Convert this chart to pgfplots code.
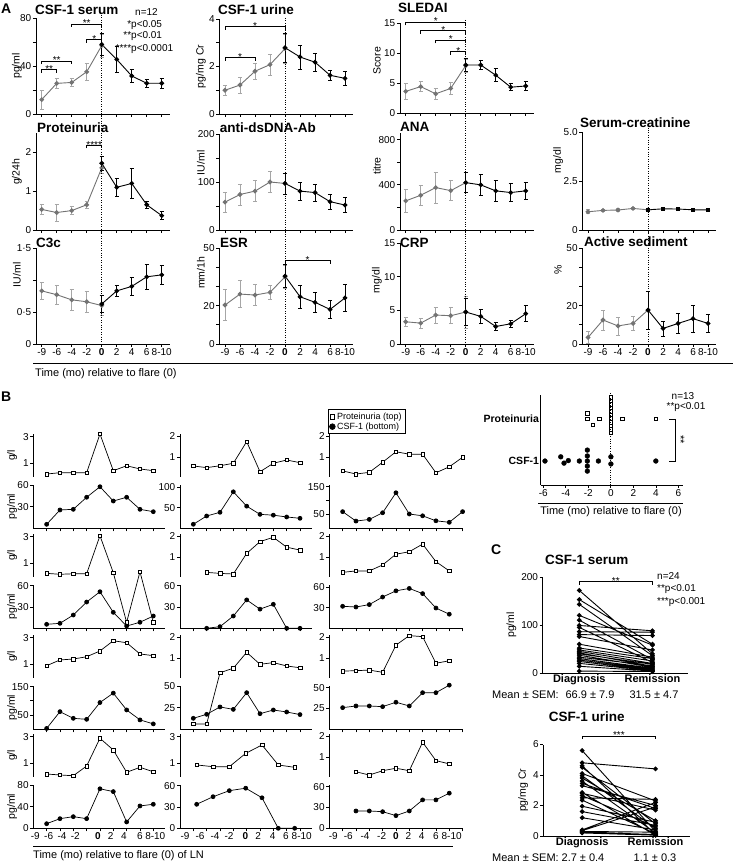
\documentclass[border=0pt]{standalone}
\usepackage{fontspec}
\setmainfont{Liberation Sans}
\usepackage{pgfplots}
\pgfplotsset{compat=1.18}
\newcommand\fs[1]{\fontsize{#1}{#1}\selectfont}
\definecolor{gA}{gray}{0.45}
\definecolor{gE}{gray}{0.65}
\newcommand\brk[4]{\draw[line width=0.7pt] ([yshift=-3pt]axis cs:#1,#3) -- (axis cs:#1,#3) -- node[midway, anchor=base, yshift=-2.6pt, inner sep=0, font=\fs{10}] {#4} (axis cs:#2,#3) -- ([yshift=-3pt]axis cs:#2,#3);}
\pgfplotsset{
 /pgf/number format/assume math mode=true,
 every axis/.append style={scale only axis, clip=false, anchor=south west,
   axis line style={-, line width=0.8pt}, tick style={line width=0.8pt, black},
   tick align=outside, major tick length=3pt,
   ticklabel style={font=\fs{10}, inner sep=1.5pt}, ylabel style={font=\fs{10.5}}},
 A/.style={width=134pt, xmin=-0.38, xmax=8.55, axis lines*=left, xtick={0,...,8}, xticklabels={}, ymin=0},
 Ab/.style={xticklabels={-9,-6,-4,-2,\textbf{0},2,4,6,8-10}},
 YL/.style 2 args={ylabel style={at={(axis description cs:#1,#2)}, anchor=center}},
 gser/.style={draw=gA, line width=0.9pt, mark=*, mark size=1.9pt, mark options={fill=gA,draw=gA},
   error bars/y dir=both, error bars/y explicit,
   error bars/error bar style={draw=gE, line width=0.7pt},
   error bars/error mark options={rotate=90, draw=gE, mark size=2.2pt, line width=0.7pt}},
 bser/.style={draw=black, line width=0.9pt, mark=*, mark size=1.9pt, mark options={fill=black,draw=black},
   error bars/y dir=both, error bars/y explicit,
   error bars/error bar style={draw=black, line width=0.7pt},
   error bars/error mark options={rotate=90, draw=black, mark size=2.2pt, line width=0.7pt}},
 Bp/.style={width=132pt, height=42.7pt, xmin=0, xmax=9.9, axis x line=none, axis y line*=left, xtick=\empty},
 Bc/.style={width=132pt, height=43.3pt, xmin=0, xmax=9.9, ymin=0, axis lines*=left, xtick={1,...,9}, xticklabels={}},
 Bw/.style={width=133.3pt, xmax=10},
 P3/.style={ymin=0, ymax=3.2, ytick={1,3}},
 P2/.style={ymin=0.05, ymax=2.12, ytick={1,2}},
 psq/.style={draw=black, line width=0.7pt, mark=square*, mark size=1.8pt, mark options={fill=white, draw=black, line width=0.6pt}},
 pcf/.style={draw=black, line width=0.7pt, mark=*, mark size=2pt, mark options={fill=black}},
 Blab/.style={extra x ticks={#1}, extra x tick labels={-9,-6,-4,-2,\textbf{0},2,4,6,8-10}, extra x tick style={tick style={draw=none}}},
}
\begin{document}
\begin{tikzpicture}[x=1pt,y=1pt]
\useasboundingbox (0,0) rectangle (733,863);
% ================= PANEL A =================
\node[anchor=west, inner sep=0, font=\bfseries\fs{14}] at (1,854) {A};
% Row 1
\begin{axis}[A, YL={-0.142}{0.5}, at={(36pt,749pt)}, height=96pt, ymax=80, ytick={0,20,...,80}, yticklabels={0,,40,,80}, ylabel={pg/ml}]
\addplot[gser] coordinates {(0,12)+-(0,8) (1,25.5)+-(0,3.8) (2,26.3)+-(0,3) (3,35.2)+-(0,7) (4,57)+-(0,9.5)};
\addplot[bser] coordinates {(4,58)+-(0,9.5) (5,45.5)+-(0,10.5) (6,31.7)+-(0,5.5) (7,25.6)+-(0,3.5) (8,25.6)+-(0,4)};
\brk{0}{1}{37}{**}\brk{0}{2}{44}{**}\brk{2}{4}{75}{**}\brk{3}{4}{62}{*}
\end{axis}
\begin{axis}[A, YL={-0.137}{0.5}, at={(219.3pt,749pt)}, height=95pt, ymax=4, ytick={0,...,4}, yticklabels={0,,2,,4}, ylabel={pg/mg Cr}]
\addplot[gser] coordinates {(0,1.0)+-(0,0.2) (1,1.22)+-(0,0.33) (2,1.8)+-(0,0.35) (3,2.08)+-(0,0.44) (4,2.75)+-(0,0.62)};
\addplot[bser] coordinates {(4,2.79)+-(0,0.62) (5,2.4)+-(0,0.51) (6,2.18)+-(0,0.39) (7,1.63)+-(0,0.22) (8,1.5)+-(0,0.3)};
\brk{0}{4}{3.68}{*}\brk{0}{2}{2.37}{*}
\end{axis}
\begin{axis}[A, YL={-0.172}{0.58}, at={(400pt,750pt)}, height=90pt, ymax=15, ytick={0,5,10,15}, ylabel={Score}]
\addplot[gser] coordinates {(0,3.6)+-(0,1.4) (1,4.4)+-(0,0.8) (2,3.2)+-(0,0.95) (3,4.1)+-(0,1.0) (4,7.9)+-(0,1.1)};
\addplot[bser] coordinates {(4,8)+-(0,1.1) (5,8)+-(0,0.8) (6,6.3)+-(0,1.1) (7,4.3)+-(0,0.6) (8,4.5)+-(0,0.8)};
\brk{0}{4}{15.1}{*}\brk{1}{4}{13.7}{*}\brk{2}{4}{12.1}{*}\brk{3}{4}{10.2}{*}
\end{axis}
% Row 2
\begin{axis}[A, YL={-0.142}{0.6}, at={(36pt,633pt)}, height=97pt, ymax=2.5, ytick={0,1,2}, ylabel={g/24h}]
\addplot[gser] coordinates {(0,0.53)+-(0,0.12) (1,0.45)+-(0,0.22) (2,0.5)+-(0,0.1) (3,0.65)+-(0,0.08) (4,1.6)+-(0,0.15)};
\addplot[bser] coordinates {(4,1.72)+-(0,0.18) (5,1.1)+-(0,0.23) (6,1.2)+-(0,0.38) (7,0.65)+-(0,0.1) (8,0.37)+-(0,0.1)};
\brk{3}{4}{2.18}{****}
\end{axis}
\begin{axis}[A, YL={-0.137}{0.7}, at={(219.3pt,633pt)}, height=96pt, ymax=200, ytick={0,50,...,200}, yticklabels={0,,100,,200}, ylabel={IU/ml}]
\addplot[gser] coordinates {(0,58)+-(0,21) (1,74)+-(0,22) (2,81)+-(0,22) (3,100)+-(0,22) (4,97)+-(0,22)};
\addplot[bser] coordinates {(4,97)+-(0,22) (5,81)+-(0,19) (6,78)+-(0,18) (7,59)+-(0,16) (8,52)+-(0,16)};
\end{axis}
\begin{axis}[A, YL={-0.172}{0.66}, at={(400pt,633pt)}, height=97pt, ymax=860, ytick={0,200,...,800}, yticklabels={0,,400,,800}, ylabel={titre}]
\addplot[gser] coordinates {(0,258)+-(0,100) (1,308)+-(0,86) (2,376)+-(0,136) (3,349)+-(0,89) (4,420)+-(0,89)};
\addplot[bser] coordinates {(4,420)+-(0,89) (5,400)+-(0,93) (6,347)+-(0,92) (7,332)+-(0,81) (8,347)+-(0,74)};
\end{axis}
\begin{axis}[A, YL={-0.181}{0.71}, at={(582.3pt,633pt)}, height=98pt, ymax=5, ytick={0,2.5,5}, yticklabels={0,2.5,5.0}, ylabel={mg/dl}]
\addplot[gser] coordinates {(0,0.93)+-(0,0.1) (1,1.0)+-(0,0.06) (2,1.02)+-(0,0.06) (3,1.1)+-(0,0.07) (4,1.03)+-(0,0.05)};
\addplot[bser, mark=square*, mark size=1.7pt] coordinates {(4,1.03)+-(0,0.05) (5,1.08)+-(0,0.05) (6,1.07)+-(0,0.05) (7,1.03)+-(0,0.04) (8,1.03)+-(0,0.05)};
\end{axis}
% Row 3
\begin{axis}[A, Ab, YL={-0.142}{0.72}, at={(36pt,519pt)}, height=96pt, ymax=1.5, ytick={0,0.5,1,1.5}, yticklabels={0,0·5,,1·5}, ylabel={IU/ml}]
\addplot[gser] coordinates {(0,0.83)+-(0,0.13) (1,0.77)+-(0,0.15) (2,0.69)+-(0,0.17) (3,0.66)+-(0,0.16) (4,0.6)+-(0,0.16)};
\addplot[bser] coordinates {(4,0.625)+-(0,0.13) (5,0.83)+-(0,0.09) (6,0.9)+-(0,0.14) (7,1.05)+-(0,0.2) (8,1.08)+-(0,0.15)};
\end{axis}
\begin{axis}[A, Ab, YL={-0.137}{0.74}, at={(219.3pt,519pt)}, height=96pt, ymax=50, ytick={0,10,...,50}, yticklabels={0,,20,,,50}, ylabel={mm/1h}]
\addplot[gser] coordinates {(0,20.3)+-(0,8) (1,26)+-(0,7) (2,25.5)+-(0,5.5) (3,26.9)+-(0,3.9) (4,35)+-(0,6)};
\addplot[bser] coordinates {(4,35.4)+-(0,6) (5,24.6)+-(0,6) (6,21.7)+-(0,5) (7,18)+-(0,4.5) (8,24)+-(0,7)};
\brk{4}{7}{43.4}{*}
\end{axis}
\begin{axis}[A, Ab, YL={-0.172}{0.63}, at={(400pt,519pt)}, height=101pt, ymax=15, ytick={0,5,10,15}, ylabel={mg/dl}]
\addplot[gser] coordinates {(0,3.3)+-(0,0.7) (1,3.1)+-(0,0.75) (2,4.3)+-(0,1.2) (3,4.2)+-(0,1.2) (4,4.75)+-(0,2.4)};
\addplot[bser] coordinates {(4,4.75)+-(0,2.0) (5,4.1)+-(0,1.1) (6,2.6)+-(0,0.55) (7,3.0)+-(0,0.55) (8,4.5)+-(0,1.2)};
\end{axis}
\begin{axis}[A, Ab, YL={-0.181}{0.77}, at={(582.3pt,519pt)}, height=96pt, ymax=50, ytick={0,10,...,50}, yticklabels={0,,20,,,50}, ylabel={\%}]
\addplot[gser] coordinates {(0,3.4)+-(0,3.3) (1,12.5)+-(0,5.2) (2,9.4)+-(0,4.7) (3,10.7)+-(0,3.7) (4,17.7)+-(0,9.9)};
\addplot[bser] coordinates {(4,17.7)+-(0,9.9) (5,8.1)+-(0,3.9) (6,10.7)+-(0,5.4) (7,13.2)+-(0,7) (8,10.7)+-(0,4.5)};
\end{axis}
% titles A
\begin{scope}[every node/.style={anchor=west, inner sep=0, font=\bfseries\fs{13.5}}]
\node at (35,853) {CSF-1 serum};
\node at (218,853) {CSF-1 urine};
\node at (398,854.7) {SLEDAI};
\node at (37,735) {Proteinuria};
\node at (219.7,735) {anti-dsDNA-Ab};
\node at (400,736.3) {ANA};
\node at (580,740.3) {Serum-creatinine};
\node at (36,619.7) {C3c};
\node at (220,619.7) {ESR};
\node at (400,619.7) {CRP};
\node at (584,621.3) {Active sediment};
\end{scope}
\begin{scope}[every node/.style={anchor=west, inner sep=0, font=\fs{10}}]
\node at (135,851.3) {n=12};
\node at (131,838) {\llap{*}p<0.05};
\node at (131,826.7) {\llap{**}p<0.01};
\node at (131,814) {\llap{****}p<0.0001};
\end{scope}
\begin{scope}[line width=0.8pt, dash pattern=on 0.8pt off 1.6pt]
\draw (101.7,848) -- (101.7,519);
\draw (285,845) -- (285,519);
\draw (465.7,843) -- (465.7,519);
\draw (648,735.3) -- (648,519);
\end{scope}
\draw[line width=1pt] (33,499.7) -- (733,499.7);
\node[anchor=west, inner sep=0, font=\fs{11}] at (35,489.5) {Time (mo) relative to flare (0)};
% ================= PANEL B =================
\node[anchor=west, inner sep=0, font=\bfseries\fs{14}] at (1,466) {B};
% pair 1
\begin{axis}[Bp, P3, YL={-0.16}{0.5}, at={(33.3pt,386.3pt)}, ylabel={g/l}]
\addplot[psq] coordinates {(1,0.2) (2,0.3) (3,0.3) (4,0.3) (5,3.2) (6,0.45) (7,0.82) (8,0.58) (9,0.45)};
\end{axis}
\begin{axis}[Bc, YL={-0.16}{0.5}, at={(33.3pt,334.7pt)}, ymax=60, ytick={30,60}, ylabel={pg/ml}]
\addplot[pcf] coordinates {(1,5.5) (2,25.4) (3,26.3) (4,43) (5,57.6) (6,37.8) (7,43) (8,26.3) (9,23)};
\end{axis}
\begin{axis}[Bp, P2, at={(180pt,386.3pt)}]
\addplot[psq] coordinates {(1,0.57) (2,0.49) (3,0.58) (4,0.7) (5,1.75) (6,0.29) (7,0.7) (8,0.86) (9,0.73)};
\end{axis}
\begin{axis}[Bc, at={(180pt,334.7pt)}, ymax=105.6, ytick={50,100}]
\addplot[pcf] coordinates {(1,9.8) (2,30) (3,39) (4,89) (5,54) (6,34) (7,32) (8,27.6) (9,24.4)};
\end{axis}
\begin{axis}[Bp, Bw, P2, at={(329.3pt,386.3pt)}, legend cell align=left,
  legend style={at={(-0.01,1.585)}, anchor=north west, draw=black, line width=0.8pt, font=\fs{9}, inner sep=1.2pt, row sep=-2pt}]
\addlegendimage{only marks, mark=square*, mark options={fill=white, draw=black, line width=0.6pt}, mark size=2.4pt}
\addlegendentry{Proteinuria (top)}
\addlegendimage{only marks, mark=*, mark options={fill=black}, mark size=2.8pt}
\addlegendentry{CSF-1 (bottom)}
\addplot[psq] coordinates {(1,0.33) (2,0.18) (3,0.26) (4,0.75) (5,1.26) (6,1.14) (7,1.14) (8,0.24) (9,0.53) (10,0.99)};
\end{axis}
\begin{axis}[Bc, Bw, xtick={1,...,10}, at={(329.3pt,334.7pt)}, ymax=156, ytick={50,100,150}, yticklabels={50,,150}]
\addplot[pcf] coordinates {(1,60) (2,26) (3,32) (4,56) (5,128) (6,51.5) (7,45) (8,27) (9,21.6) (10,60)};
\end{axis}
% pair 2
\begin{axis}[Bp, P3, YL={-0.16}{0.5}, at={(33.3pt,286.3pt)}, ylabel={g/l}]
\addplot[psq] coordinates {(1,0.25) (2,0.18) (3,0.22) (4,0.22) (5,3.07) (6,0.3) (7,-3.42) (8,0.37) (9,-3.42)};
\end{axis}
\begin{axis}[Bc, YL={-0.16}{0.5}, at={(33.3pt,234.7pt)}, ymax=61, ytick={30,60}, ylabel={pg/ml}]
\addplot[pcf] coordinates {(1,5.6) (2,7) (3,18.7) (4,37) (5,51.5) (6,22.5) (7,3.2) (8,8.5) (9,17.3)};
\end{axis}
\begin{axis}[Bp, P2, at={(180pt,286.3pt)}]
\addplot[psq] coordinates {(2,0.26) (3,0.21) (4,0.18) (5,1.18) (6,1.75) (7,1.96) (8,1.48) (9,1.34)};
\end{axis}
\begin{axis}[Bc, at={(180pt,234.7pt)}, ymax=61, ytick={30,60}]
\addplot[pcf] coordinates {(2,0) (3,2.3) (4,17.3) (5,40) (6,27) (7,33.8) (8,0) (9,0)};
\end{axis}
\begin{axis}[Bp, Bw, P2, at={(329.3pt,286.3pt)}]
\addplot[psq] coordinates {(1,0.26) (2,0.33) (3,0.33) (4,0.62) (5,1.14) (6,1.26) (7,1.63) (8,0.78) (9,0.33)};
\end{axis}
\begin{axis}[Bc, Bw, xtick={1,...,10}, at={(329.3pt,234.7pt)}, ymax=63, ytick={30,60}]
\addplot[pcf] coordinates {(1,32) (2,31) (3,34.5) (4,45.5) (5,54.5) (6,58) (7,50.5) (8,29.5) (9,20.5)};
\end{axis}
% pair 3
\begin{axis}[Bp, P3, YL={-0.16}{0.5}, at={(33.3pt,185.3pt)}, ylabel={g/l}]
\addplot[psq] coordinates {(1,0.9) (2,1.33) (3,1.4) (4,1.57) (5,2.0) (6,2.77) (7,2.62) (8,1.78) (9,1.65)};
\end{axis}
\begin{axis}[Bc, YL={-0.16}{0.5}, at={(33.3pt,133.7pt)}, ymax=152, ytick={50,100,150}, yticklabels={50,,150}, ylabel={pg/ml}]
\addplot[pcf] coordinates {(1,3) (2,62) (3,38.5) (4,35) (5,94) (6,127) (7,68) (8,33) (9,19)};
\end{axis}
\begin{axis}[Bp, P2, at={(180pt,185.3pt)}]
\addplot[psq] coordinates {(1,-2.19) (2,-2.19) (3,0.29) (4,0.51) (5,1.28) (6,0.7) (7,0.78) (8,0.62) (9,0.53)};
\end{axis}
\begin{axis}[Bc, at={(180pt,133.7pt)}, ymax=50, ytick={25,50}]
\addplot[pcf] coordinates {(1,12.7) (2,17.3) (3,25.8) (4,23) (5,42.3) (6,18) (7,22.3) (8,20) (9,17)};
\end{axis}
\begin{axis}[Bp, Bw, P2, at={(329.3pt,185.3pt)}]
\addplot[psq] coordinates {(1,0.37) (2,0.39) (3,0.42) (4,0.31) (5,1.63) (6,2.09) (7,2.04) (8,0.75) (9,0.87)};
\end{axis}
\begin{axis}[Bc, Bw, xtick={1,...,10}, at={(329.3pt,133.7pt)}, ymax=52, ytick={25,50}]
\addplot[pcf] coordinates {(1,26) (2,28) (3,28) (4,27.2) (5,32.5) (6,28) (7,44) (8,44) (9,53)};
\end{axis}
% pair 4
\begin{axis}[Bp, P3, YL={-0.16}{0.5}, at={(33.3pt,86.3pt)}, ylabel={g/l}]
\addplot[psq] coordinates {(1,0.2) (2,0.13) (3,0.07) (4,0.8) (5,2.88) (6,2.0) (7,0.33) (8,0.7) (9,0.37)};
\end{axis}
\begin{axis}[Bc, YL={-0.16}{0.5}, Blab={0.15,1.15,2.15,3.15,4.85,5.8,6.8,8,9.15}, at={(33.3pt,34.7pt)}, ymax=80, ytick={0,40,80}, ylabel={pg/ml}]
\addplot[pcf] coordinates {(1,8.5) (2,17.8) (3,21.5) (4,17.8) (5,73) (6,67.8) (7,11.7) (8,41.3) (9,44.4)};
\end{axis}
\begin{axis}[Bp, P3, at={(180pt,86.3pt)}]
\addplot[psq] coordinates {(1.25,0.88) (2.48,0.75) (3.7,0.75) (4.93,1.75) (6.15,2.38) (7.37,0.88) (8.6,0.7)};
\end{axis}
\begin{axis}[Bc, Blab={0.38,1.5,2.63,3.68,4.91,5.87,6.95,7.95,9.13}, at={(180pt,34.7pt)}, ymax=61, ytick={0,30,60}]
\addplot[pcf] coordinates {(1.25,33.8) (2.48,44.5) (3.7,53) (4.93,56.5) (6.15,43) (7.37,0) (8.6,0)};
\end{axis}
\begin{axis}[Bp, Bw, P2, at={(329.3pt,86.3pt)}]
\addplot[psq] coordinates {(2,0.29) (3,0.13) (4,0.34) (5,0.46) (6,0.34) (7,1.72) (8,0.83) (9,0.67)};
\end{axis}
\begin{axis}[Bc, Bw, xtick={1,...,10}, Blab={0.3,1.43,2.68,3.93,5.0,5.93,6.93,8.0,9.18}, at={(329.3pt,34.7pt)}, ymax=62.5, ytick={0,30,60}]
\addplot[pcf] coordinates {(2,25) (3,25) (4,24) (5,18.3) (6,25) (7,41) (8,41) (9,50.7)};
\end{axis}
\draw[line width=1pt] (33,16.3) -- (452.7,16.3);
\node[anchor=west, inner sep=0, font=\fs{11}] at (33,7) {Time (mo) relative to flare (0) of LN};
% dot plot
\begin{axis}[at={(540.7pt,378pt)}, width=142.3pt, height=90pt, xmin=-6.23, xmax=6.4, ymin=-0.57, ymax=1.57,
  axis lines*=left, xtick={-6,-4,...,6}, ytick=\empty, extra y ticks={0,1},
  extra y tick labels={\textbf{CSF-1},\textbf{Proteinuria}}, extra y tick style={major tick length=0pt, yticklabel style={font=\fs{10.5}}}]
\draw[line width=0.8pt, dash pattern=on 0.8pt off 1.6pt] (axis cs:0,-0.57) -- (axis cs:0,1.65);
\addplot[only marks, mark=square, mark size=1.8pt, mark options={draw=black, line width=0.6pt}] coordinates {
 (-2.1,1.14) (-2.1,1.0) (-1.05,1.0) (-1.6,0.86) (1,1.0) (4,1.0)
 (0,1.52) (0,1.435) (0,1.35) (0,1.265) (0,1.18) (0,1.095) (0,1.01) (0,0.925) (0,0.84) (0,0.755) (0,0.67)};
\addplot[only marks, mark=*, mark size=2.4pt, black] coordinates {
 (-5.85,0) (-4.45,0.1) (-4.16,-0.05) (-3.78,0.01) (-2.8,0) (-2.09,0.26) (-2.09,0.12) (-2.09,0) (-2.09,-0.12) (-2.09,-0.24) (-1.11,0) (0,0.1) (0,-0.07) (3.99,0)};
\draw[line width=0.8pt] (axis cs:5.2,1) -- (axis cs:5.7,1) -- (axis cs:5.7,-0.02) -- (axis cs:5.2,-0.02);
\node[rotate=-90, font=\fs{11}, inner sep=0] at (axis cs:6.2,0.5) {**};
\end{axis}
\node[font=\fs{10}, inner sep=0] at (683,467) {n=13};
\node[font=\fs{10}, inner sep=0] at (686,456.3) {**p<0.01};
\draw[line width=1pt] (538,359.7) -- (683,359.7);
\node[font=\fs{11}, inner sep=0] at (611,351.3) {Time (mo) relative to flare (0)};
% ================= PANEL C =================
\node[anchor=west, inner sep=0, font=\bfseries\fs{14}] at (491,313) {C};
\node[font=\bfseries\fs{13.5}, inner sep=0] at (586.7,303) {CSF-1 serum};
\begin{axis}[at={(542.7pt,190pt)}, width=145.6pt, height=96pt, xmin=-0.5, xmax=1.49, ymin=0, ymax=200,
  axis lines*=left, xtick=\empty, extra x ticks={0,1}, extra x tick labels={\textbf{Diagnosis},\textbf{Remission}},
  extra x tick style={major tick length=0pt, xticklabel style={font=\fs{11}}}, ytick={0,100,200}, ylabel={pg/ml}, unbounded coords=jump]
\addplot[pcf, line width=0.9pt, mark size=1.9pt] coordinates {
 (0,172) (1,40) (0,nan) (0,153) (1,60) (0,nan) (0,143) (1,36) (0,nan) (0,120) (1,58) (0,nan)
 (0,110) (1,28) (0,nan) (0,99) (1,88) (0,nan) (0,95) (1,22) (0,nan) (0,86) (1,85) (0,nan)
 (0,80) (1,78) (0,nan) (0,76) (1,48) (0,nan) (0,60) (1,33) (0,nan) (0,52) (1,30) (0,nan)
 (0,48) (1,25) (0,nan) (0,45) (1,20) (0,nan) (0,42) (1,14) (0,nan) (0,40) (1,18) (0,nan)
 (0,37) (1,12) (0,nan) (0,33) (1,15) (0,nan) (0,30) (1,10) (0,nan) (0,27) (1,8) (0,nan)
 (0,24) (1,6) (0,nan) (0,20) (1,5) (0,nan) (0,14) (1,4) (0,nan) (0,4) (1,3)};
\brk{0}{1}{190}{**}
\end{axis}
\begin{scope}[every node/.style={anchor=west, inner sep=0, font=\fs{10}}]
\node at (657,287) {n=24};
\node at (657,274) {**p<0.01};
\node at (657,261) {***p<0.001};
\end{scope}
\node[anchor=west, inner sep=0, font=\fs{11}] at (492,168) {Mean ± SEM:};
\node[inner sep=0, font=\fs{11}] at (590,168) {66.9 ± 7.9};
\node[inner sep=0, font=\fs{11}] at (654,168) {31.5 ± 4.7};
\node[font=\bfseries\fs{13.5}, inner sep=0] at (586.7,146.3) {CSF-1 urine};
\begin{axis}[at={(543.3pt,27pt)}, width=146.7pt, height=91.5pt, xmin=-0.53, xmax=1.47, ymin=0, ymax=6,
  axis lines*=left, xtick=\empty, extra x ticks={0,1}, extra x tick labels={\textbf{Diagnosis},\textbf{Remission}},
  extra x tick style={major tick length=0pt, xticklabel style={font=\fs{11}}}, ytick={0,2,4,6}, ylabel={pg/mg Cr}, unbounded coords=jump]
\addplot[pcf, line width=0.9pt, mark size=1.9pt] coordinates {
 (0,5.6) (1,0.3) (0,nan) (0,4.8) (1,4.4) (0,nan) (0,4.6) (1,0.1) (0,nan) (0,4.5) (1,0.8) (0,nan)
 (0,4.1) (1,2.3) (0,nan) (0,3.95) (1,0.5) (0,nan) (0,3.8) (1,1.0) (0,nan) (0,3.6) (1,0.2) (0,nan)
 (0,3.45) (1,1.8) (0,nan) (0,3.3) (1,2.0) (0,nan) (0,2.85) (1,0.05) (0,nan) (0,2.8) (1,1.7) (0,nan)
 (0,2.65) (1,0.6) (0,nan) (0,2.5) (1,2.4) (0,nan) (0,2.35) (1,0.15) (0,nan) (0,1.95) (1,0.9) (0,nan)
 (0,1.6) (1,0.7) (0,nan) (0,1.2) (1,0.4) (0,nan) (0,0.4) (1,2.2) (0,nan) (0,0.35) (1,1.9) (0,nan)
 (0,0.3) (1,0.25) (0,nan) (0,0.25) (1,0.1) (0,nan) (0,0.2) (1,0.05)};
\brk{0}{1}{6.56}{***}
\end{axis}
\node[anchor=west, inner sep=0, font=\fs{11}] at (492,5.7) {Mean ± SEM:};
\node[inner sep=0, font=\fs{11}] at (583,5.7) {2.7 ± 0.4};
\node[inner sep=0, font=\fs{11}] at (655,5.7) {1.1 ± 0.3};
\end{tikzpicture}
\end{document}
